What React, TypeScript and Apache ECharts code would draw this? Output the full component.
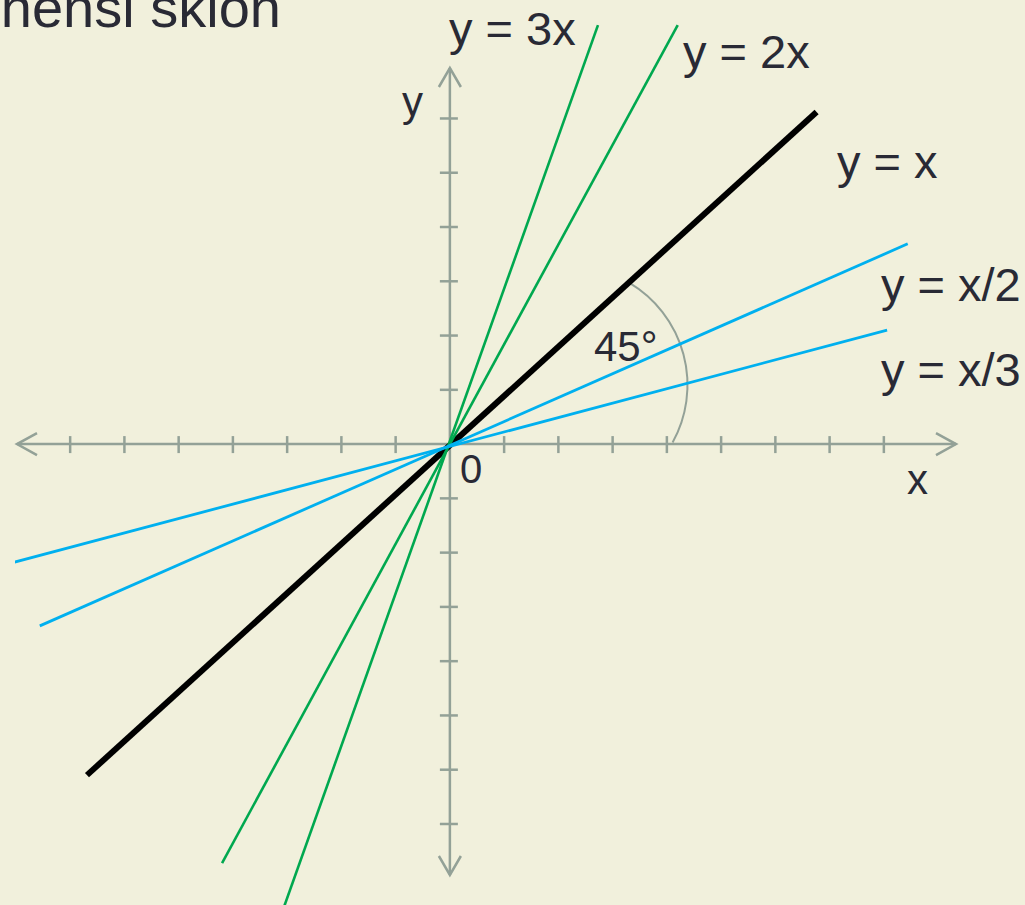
import React, { useEffect, useRef } from "react";
import * as echarts from "echarts";

// Axis extents (data units) and tick positions
const xRange = [-7.98, 9.33];
const yRange = [-7.94, 6.93];
const xTicks = [-7, -6, -5, -4, -3, -2, -1, 1, 2, 3, 4, 5, 6, 7, 8];
const yTicks = [-7, -6, -5, -4, -3, -2, -1, 1, 2, 3, 4, 5, 6];

// Line segments [x, y]
const lineY3x = [[-3.08, -8.59], [2.73, 7.72]];
const lineY2x = [[-4.2, -7.72], [4.2, 7.72]];
const lineYx = [[-6.69, -6.1], [6.76, 6.12]];
const lineYhalf = [[-7.56, -3.35], [8.44, 3.69]];
const lineYthird = [[-8.04, -2.18], [8.06, 2.1]];

// Angle-mark arc: centre (x, y) and radius in data units, angles in degrees
const arcCentre = [2.19, 1.09];
const arcRadius = 2.19;
const arcAngles = [-59, 29];

const labelTexts = ["y = 3x", "y = 2x", "y = x", "y = x/2", "y = x/3", "45°", "0", "x", "y"];
const titleText = "hensi skion";

const BG = "#f1f0dc";
const AXIS = "#93a197";
const TEXT = "#292a35";
const GREEN = "#00a84f";
const BLUE = "#00b0ef";
const FONT = '"Liberation Sans", Arial, sans-serif';

function txt(text: string, x: number, y: number, size: number, align = "left") {
  return {
    type: "text",
    x,
    y,
    silent: true,
    style: {
      text,
      fill: TEXT,
      font: `${size}px ${FONT}`,
      textAlign: align,
      textVerticalAlign: "middle",
    },
  };
}

export default function App() {
  const ref = useRef<HTMLDivElement>(null);
  useEffect(() => {
    if (!ref.current) return;
    document.body.style.margin = "0";
    const chart = echarts.init(ref.current, null, { renderer: "svg" });
    const lineSeries = (data: number[][], color: string, width: number, z: number) => ({
      type: "line",
      data,
      showSymbol: false,
      symbol: "none",
      clip: false,
      silent: true,
      z,
      lineStyle: { color, width, cap: "butt" },
    });
    chart.setOption({
      animation: false,
      backgroundColor: BG,
      grid: { left: 17, right: 69, top: 68, bottom: 30 },
      xAxis: { type: "value", min: xRange[0], max: xRange[1], show: false },
      yAxis: { type: "value", min: yRange[0], max: yRange[1], show: false },
      series: [
        {
          type: "custom",
          silent: true,
          z: 1,
          data: [[0, 0]],
          renderItem: (_p: any, api: any) => {
            const l = api.coord([xRange[0], 0]);
            const r = api.coord([xRange[1], 0]);
            const t = api.coord([0, yRange[1]]);
            const b = api.coord([0, yRange[0]]);
            const st = { stroke: AXIS, lineWidth: 2.5, fill: null };
            return {
              type: "group",
              children: [
                { type: "line", shape: { x1: l[0], y1: l[1], x2: r[0], y2: r[1] }, style: st },
                { type: "line", shape: { x1: t[0], y1: t[1], x2: b[0], y2: b[1] }, style: st },
                { type: "polyline", shape: { points: [[l[0] + 20, l[1] - 11], l, [l[0] + 20, l[1] + 11]] }, style: st },
                { type: "polyline", shape: { points: [[r[0] - 20, r[1] - 11], r, [r[0] - 20, r[1] + 11]] }, style: st },
                { type: "polyline", shape: { points: [[t[0] - 11, t[1] + 19], t, [t[0] + 11, t[1] + 19]] }, style: st },
                { type: "polyline", shape: { points: [[b[0] - 11, b[1] - 19], b, [b[0] + 11, b[1] - 19]] }, style: st },
              ],
            };
          },
        },
        {
          type: "custom",
          silent: true,
          z: 1,
          data: xTicks.map((v) => [v, 0]),
          renderItem: (_p: any, api: any) => {
            const p = api.coord([api.value(0), 0]);
            return {
              type: "line",
              shape: { x1: p[0], y1: p[1] - 8, x2: p[0], y2: p[1] + 9 },
              style: { stroke: AXIS, lineWidth: 2.5 },
            };
          },
        },
        {
          type: "custom",
          silent: true,
          z: 1,
          data: yTicks.map((v) => [0, v]),
          renderItem: (_p: any, api: any) => {
            const p = api.coord([0, api.value(1)]);
            return {
              type: "line",
              shape: { x1: p[0] - 10, y1: p[1], x2: p[0] + 8, y2: p[1] },
              style: { stroke: AXIS, lineWidth: 2.5 },
            };
          },
        },
        {
          type: "custom",
          silent: true,
          z: 1,
          data: [[arcCentre[0], arcCentre[1], arcRadius]],
          renderItem: (_p: any, api: any) => {
            const c = api.coord([api.value(0), api.value(1)]);
            const r = api.size([api.value(2), 0])[0];
            return {
              type: "arc",
              shape: {
                cx: c[0],
                cy: c[1],
                r,
                startAngle: (arcAngles[0] * Math.PI) / 180,
                endAngle: (arcAngles[1] * Math.PI) / 180,
                clockwise: true,
              },
              style: { stroke: AXIS, lineWidth: 2, fill: null },
            };
          },
        },
        lineSeries(lineYx, "#000000", 6, 3),
        lineSeries(lineY3x, GREEN, 2.6, 4),
        lineSeries(lineY2x, GREEN, 2.6, 4),
        lineSeries(lineYhalf, BLUE, 2.8, 5),
        lineSeries(lineYthird, BLUE, 2.8, 5),
      ],
      graphic: [
        txt(titleText, 281, 7, 56, "right"),
        txt(labelTexts[0], 449, 28, 47),
        txt(labelTexts[1], 683, 51, 47),
        txt(labelTexts[2], 837, 161, 47),
        txt(labelTexts[3], 881, 284, 47),
        txt(labelTexts[4], 881, 369, 47),
        txt(labelTexts[5], 594, 346, 42),
        txt(labelTexts[6], 460, 469, 40),
        txt(labelTexts[7], 907, 479, 42),
        txt(labelTexts[8], 402, 101, 42),
      ],
    });
    return () => chart.dispose();
  }, []);
  return (
    <div
      ref={ref}
      style={{ position: "fixed", left: 0, top: 0, width: 1025, height: 905, background: BG }}
    />
  );
}
